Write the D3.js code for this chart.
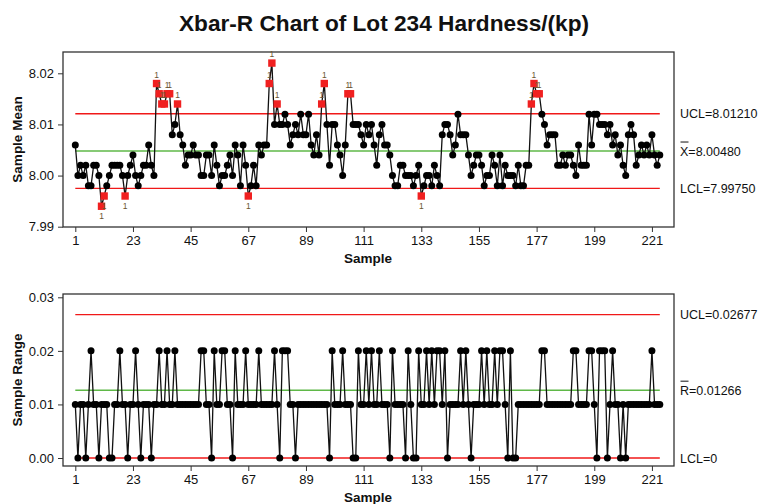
<!DOCTYPE html>
<html><head><meta charset="utf-8">
<script src="https://cdn.jsdelivr.net/npm/d3@7/dist/d3.min.js"></script>
<style>body{margin:0;background:#fff}svg{display:block}text{font-family:"Liberation Sans",Arial,sans-serif}</style>
</head><body>
<svg id="c" width="759" height="504"></svg>
<script>
const title = "Xbar-R Chart of Lot 234 Hardness/(kp)";
const sampleMeans = [
8.006,8.000,8.002,8.000,8.002,7.998,7.998,8.002,8.002,8.000,
7.994,7.996,7.998,8.000,8.002,8.002,8.002,8.002,8.000,7.996,
8.000,8.002,8.004,8.000,7.998,8.000,8.002,8.002,8.006,8.002,
8.000,8.018,8.016,8.014,8.014,8.016,8.016,8.008,8.010,8.014,
8.008,8.006,8.002,8.004,8.004,8.006,8.004,8.004,8.000,8.000,
8.004,8.004,8.000,8.006,8.002,7.998,8.000,8.000,8.002,8.004,
8.000,8.006,8.004,7.998,8.006,8.002,7.996,7.998,8.002,7.998,
8.006,8.004,8.006,8.006,8.018,8.022,8.010,8.014,8.010,8.010,
8.012,8.010,8.006,8.008,8.010,8.008,8.012,8.008,8.008,8.012,
8.006,8.004,8.008,8.004,8.014,8.018,8.010,8.002,8.010,8.010,
8.006,8.004,8.000,8.006,8.016,8.016,8.010,8.010,8.010,8.008,
8.006,8.010,8.008,8.010,8.006,8.002,8.008,8.010,8.006,8.006,
8.004,8.000,7.998,7.998,8.002,8.002,8.000,8.000,8.000,7.998,
8.000,8.002,7.996,7.998,8.000,8.000,7.998,8.002,8.000,7.998,
8.008,8.010,8.010,8.008,8.004,8.006,8.012,8.008,8.008,8.008,
8.004,8.000,8.002,8.004,8.004,8.002,7.998,8.000,8.000,8.004,
8.002,7.998,8.004,7.998,8.002,8.000,8.000,8.000,7.998,8.002,
7.998,7.998,8.002,8.002,8.014,8.018,8.016,8.016,8.012,8.010,
8.006,8.008,8.008,8.008,8.002,8.002,8.004,8.002,8.004,8.004,
8.002,8.000,8.006,8.002,8.002,8.002,8.012,8.006,8.012,8.012,
8.010,8.010,8.010,8.008,8.010,8.006,8.008,8.004,8.006,8.002,
8.000,8.008,8.010,8.008,8.002,8.004,8.006,8.004,8.006,8.004,
8.008,8.004,8.002,8.004];
const sampleRanges = [
0.01,0.00,0.01,0.01,0.00,0.01,0.02,0.01,0.01,0.00,
0.01,0.01,0.01,0.00,0.00,0.01,0.01,0.02,0.01,0.01,
0.00,0.01,0.01,0.02,0.01,0.00,0.01,0.01,0.01,0.00,
0.01,0.01,0.02,0.01,0.01,0.02,0.01,0.01,0.02,0.01,
0.01,0.01,0.01,0.01,0.01,0.01,0.01,0.01,0.02,0.02,
0.01,0.01,0.00,0.02,0.01,0.01,0.02,0.02,0.01,0.01,
0.00,0.02,0.01,0.01,0.01,0.02,0.01,0.01,0.01,0.01,
0.02,0.01,0.01,0.01,0.01,0.01,0.02,0.01,0.00,0.02,
0.02,0.02,0.01,0.01,0.00,0.01,0.01,0.01,0.01,0.01,
0.01,0.01,0.01,0.01,0.01,0.01,0.01,0.00,0.02,0.01,
0.01,0.01,0.02,0.01,0.01,0.01,0.00,0.00,0.02,0.01,
0.01,0.02,0.01,0.02,0.01,0.01,0.02,0.01,0.01,0.01,
0.00,0.02,0.01,0.01,0.01,0.01,0.00,0.02,0.01,0.00,
0.00,0.02,0.01,0.01,0.02,0.01,0.02,0.01,0.02,0.02,
0.01,0.02,0.00,0.01,0.01,0.01,0.01,0.02,0.01,0.02,
0.01,0.00,0.01,0.01,0.01,0.02,0.01,0.02,0.01,0.01,
0.02,0.01,0.02,0.02,0.01,0.00,0.02,0.00,0.00,0.01,
0.01,0.01,0.01,0.01,0.01,0.01,0.01,0.01,0.02,0.02,
0.01,0.01,0.01,0.01,0.01,0.01,0.01,0.01,0.01,0.01,
0.02,0.02,0.01,0.01,0.01,0.01,0.02,0.02,0.01,0.00,
0.02,0.02,0.02,0.00,0.01,0.02,0.01,0.01,0.00,0.01,
0.00,0.01,0.01,0.01,0.01,0.01,0.01,0.01,0.01,0.01,
0.02,0.01,0.01,0.01];
const sampleTicks = [1,23,45,67,89,111,133,155,177,199,221];
const meanTicks = [7.99,8.00,8.01,8.02];
const rangeTicks = [0.00,0.01,0.02,0.03];
const meanLimits = [8.01210, 8.00480, 7.99750];   // UCL, center, LCL
const meanLimitLabels = ["UCL=8.01210", "X=8.00480", "LCL=7.99750"];
const rangeLimits = [0.02677, 0.01266, 0];
const rangeLimitLabels = ["UCL=0.02677", "R=0.01266", "LCL=0"];
const limitColors = ["#f01818", "#5fb848", "#f01818"];

const svg = d3.select("#c");
const n = sampleMeans.length;
const x = d3.scaleLinear().domain([1, 224]).range([75.3, 659.8]);

svg.append("text").attr("x", 384).attr("y", 31).attr("text-anchor", "middle")
  .attr("font-size", 22).attr("font-weight", "bold").attr("fill", "#111")
  .attr("textLength", 410).attr("lengthAdjust", "spacingAndGlyphs").text(title);

function panel(cfg) {
  const g = svg.append("g");
  const y = d3.scaleLinear().domain(cfg.domain).range(cfg.range);
  g.append("rect").attr("x", 63).attr("y", cfg.top).attr("width", 611).attr("height", cfg.bottom - cfg.top)
    .attr("fill", "none").attr("stroke", "#333").attr("stroke-width", 1.3);
  const ya = g.append("g").attr("transform", "translate(63,0)")
    .call(d3.axisLeft(y).tickValues(cfg.ticks).tickFormat(d3.format(".2f")).tickSize(5).tickPadding(4));
  ya.select(".domain").remove();
  ya.selectAll("text").attr("font-size", 13).attr("fill", "#111").style("font-family", '"Liberation Sans",Arial,sans-serif');
  ya.selectAll("line").attr("stroke", "#333");
  const xa = g.append("g").attr("transform", `translate(0,${cfg.bottom})`)
    .call(d3.axisBottom(x).tickValues(sampleTicks).tickSize(5).tickPadding(4));
  xa.select(".domain").remove();
  xa.selectAll("text").attr("font-size", 13).attr("fill", "#111").style("font-family", '"Liberation Sans",Arial,sans-serif');
  xa.selectAll("line").attr("stroke", "#333");
  g.append("text").attr("x", 368).attr("y", cfg.bottom + 36).attr("text-anchor", "middle")
    .attr("font-size", 13.5).attr("font-weight", "bold").attr("fill", "#111").text("Sample");
  g.append("text").attr("transform", `translate(22,${(cfg.top + cfg.bottom) / 2}) rotate(-90)`)
    .attr("text-anchor", "middle").attr("font-size", 13.5).attr("font-weight", "bold").attr("fill", "#111").text(cfg.yTitle);
  cfg.limits.forEach((v, i) => {
    g.append("line").attr("x1", x(1)).attr("x2", x(n)).attr("y1", y(v)).attr("y2", y(v))
      .attr("stroke", limitColors[i]).attr("stroke-width", 1.4);
    g.append("text").attr("x", 680).attr("y", y(v) + 4.5).attr("font-size", 12.5).attr("fill", "#111")
      .text(cfg.labels[i]);
    if (i === 1) {
      g.append("line").attr("x1", 680.5).attr("x2", 688.5).attr("y1", y(v) - 9).attr("y2", y(v) - 9)
        .attr("stroke", "#111").attr("stroke-width", 1);
    }
  });
  const line = d3.line().x((d, i) => x(i + 1)).y(d => y(d));
  g.append("path").datum(cfg.values).attr("d", line).attr("fill", "none").attr("stroke", "#111").attr("stroke-width", 1.3);
  const ucl = cfg.limits[0], lcl = cfg.limits[2];
  const isOut = d => d > ucl + 1e-9 || d < lcl - 1e-9;
  const pts = cfg.values.map((v, i) => ({v, i}));
  g.selectAll("circle").data(pts.filter(d => !isOut(d.v))).join("circle")
    .attr("cx", d => x(d.i + 1)).attr("cy", d => y(d.v)).attr("r", 3.5).attr("fill", "#000");
  const outs = pts.filter(d => isOut(d.v));
  g.selectAll("rect.out").data(outs).join("rect").attr("class", "out")
    .attr("x", d => x(d.i + 1) - 3.7).attr("y", d => y(d.v) - 3.7).attr("width", 7.4).attr("height", 7.4)
    .attr("fill", "#f02020");
  g.selectAll("text.flag").data(outs).join("text").attr("class", "flag")
    .attr("x", d => x(d.i + 1)).attr("y", d => d.v > ucl ? y(d.v) - 6 : y(d.v) + 13)
    .attr("text-anchor", "middle").attr("font-size", 8.5).attr("fill", "#6a5530").text("1");
}

panel({domain: [7.99, 8.02], range: [226.7, 73.3], top: 52, bottom: 227, ticks: meanTicks,
  limits: meanLimits, labels: meanLimitLabels, values: sampleMeans, yTitle: "Sample Mean"});
panel({domain: [0, 0.03], range: [458, 297.3], top: 294, bottom: 466, ticks: rangeTicks,
  limits: rangeLimits, labels: rangeLimitLabels, values: sampleRanges, yTitle: "Sample Range"});
</script>
</body></html>
